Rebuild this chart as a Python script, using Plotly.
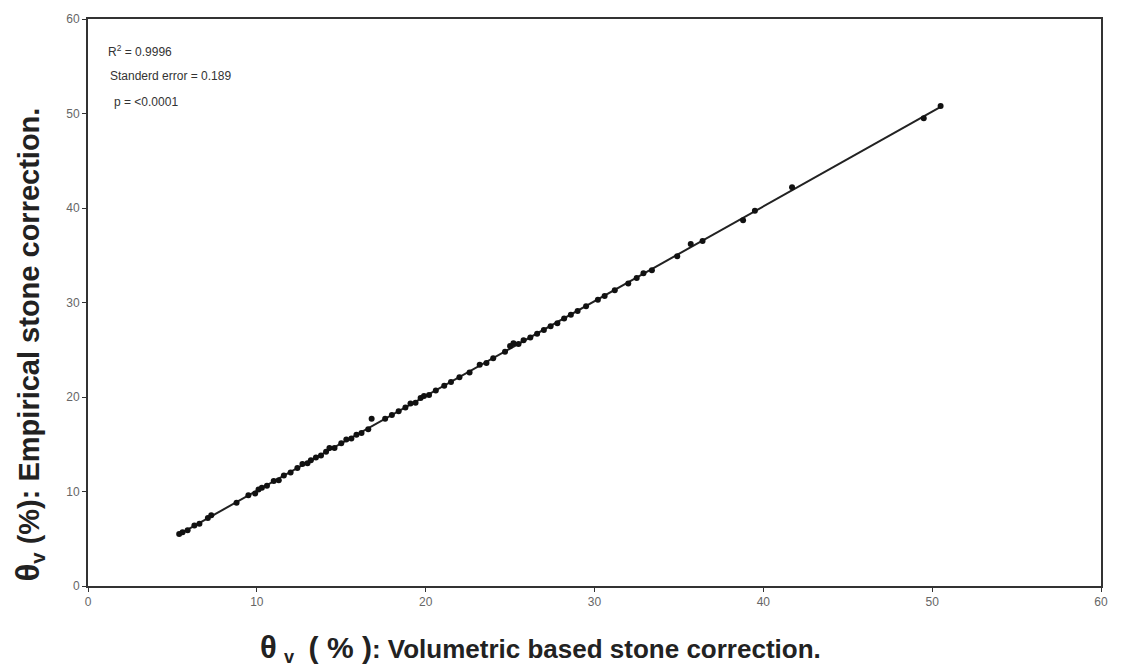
import numpy as np
import plotly.graph_objects as go

# Data (volumetric vs empirical stone correction, %)
vol_x = [5.4, 5.6, 5.9, 6.3, 6.6, 7.1, 7.3, 8.8, 9.5, 9.9, 10.1, 10.3, 10.6, 11.0, 11.3,
         11.6, 12.0, 12.4, 12.7, 13.0, 13.2, 13.5, 13.8, 14.1, 14.3, 14.6, 15.0, 15.3, 15.6,
         15.9, 16.2, 16.6, 16.8, 17.6, 18.0, 18.4, 18.8, 19.1, 19.4, 19.7, 19.9, 20.2, 20.6,
         21.1, 21.5, 22.0, 22.6, 23.2, 23.6, 24.0, 24.7, 25.0, 25.2, 25.5, 25.8, 26.2, 26.6,
         27.0, 27.4, 27.8, 28.2, 28.6, 29.0, 29.5, 30.2, 30.6, 31.2, 32.0, 32.5, 32.9, 33.4,
         34.9, 35.7, 36.4, 38.8, 39.5, 41.7, 49.5, 50.5]
emp_y = [5.5, 5.7, 5.9, 6.4, 6.6, 7.2, 7.5, 8.8, 9.6, 9.8, 10.2, 10.4, 10.6, 11.1, 11.2,
         11.7, 12.0, 12.5, 12.9, 13.0, 13.3, 13.6, 13.8, 14.2, 14.6, 14.6, 15.1, 15.5, 15.6,
         16.0, 16.2, 16.6, 17.7, 17.7, 18.1, 18.5, 18.9, 19.3, 19.4, 19.9, 20.1, 20.2, 20.7,
         21.2, 21.6, 22.1, 22.6, 23.4, 23.6, 24.1, 24.8, 25.4, 25.7, 25.6, 26.0, 26.3, 26.7,
         27.1, 27.5, 27.8, 28.3, 28.7, 29.1, 29.6, 30.3, 30.7, 31.3, 32.0, 32.6, 33.1, 33.4,
         34.9, 36.2, 36.5, 38.7, 39.7, 42.2, 49.5, 50.8]

x_ticks = [0, 10, 20, 30, 40, 50, 60]
y_ticks = [0, 10, 20, 30, 40, 50, 60]

stats_lines = ["R<sup>2</sup> = 0.9996", "Standerd error = 0.189", "p = <0.0001"]

# regression line fitted from the data
slope, intercept = np.polyfit(vol_x, emp_y, 1)
fit_x = np.array([min(vol_x), max(vol_x)])
fit_y = slope * fit_x + intercept

fig = go.Figure()
fig.add_trace(go.Scatter(x=fit_x, y=fit_y, mode="lines",
                         line=dict(color="#222222", width=2), showlegend=False))
fig.add_trace(go.Scatter(x=vol_x, y=emp_y, mode="markers",
                         marker=dict(symbol="circle", size=6, color="#111111"),
                         showlegend=False))

axis_common = dict(range=[0, 60], showgrid=False, zeroline=False, showline=True,
                   linecolor="#333333", linewidth=2, mirror=True, ticks="outside",
                   ticklen=4, tickcolor="#333333", tickwidth=1,
                   tickfont=dict(family="Liberation Sans, Arial", size=12, color="#666666"))
fig.update_xaxes(tickvals=x_ticks, **axis_common)
fig.update_yaxes(tickvals=y_ticks, **axis_common)

anns = []
for i, (t, dx) in enumerate(zip(stats_lines, [0, 2, 6])):
    anns.append(dict(x=0.0, y=1.0, xref="paper", yref="paper", xanchor="left", yanchor="top",
                     xshift=18 + dx, yshift=-22 - i * 26, text=t, showarrow=False,
                     font=dict(family="Liberation Sans, Arial", size=12, color="#333333")))

nb = "\u00a0"
anns.append(dict(x=0.5, y=0, xref="paper", yref="paper", xanchor="center", yanchor="top",
                 xshift=-54, yshift=-42, showarrow=False,
                 text="<b><span style='font-size:31px'>θ</span>" + nb +
                      "<sub>v</sub>" + nb + nb +
                      "<span style='font-size:30px'>(" + nb + "%" + nb + ")</span>"
                      ": Volumetric based stone correction.</b>",
                 font=dict(family="Liberation Sans, Arial", size=26, color="#222222")))
anns.append(dict(x=0, y=0.5, xref="paper", yref="paper", xanchor="right", yanchor="middle",
                 xshift=-38, yshift=-42, textangle=-90, showarrow=False,
                 text="<b><span style='font-size:33px'>θ</span><sub>v</sub> (%): Empirical stone correction.</b>",
                 font=dict(family="Liberation Sans, Arial", size=29, color="#222222")))

fig.update_layout(width=1124, height=671, margin=dict(l=88, r=23, t=17, b=85),
                  plot_bgcolor="white", paper_bgcolor="white", annotations=anns)

fig.write_html("out.html")
